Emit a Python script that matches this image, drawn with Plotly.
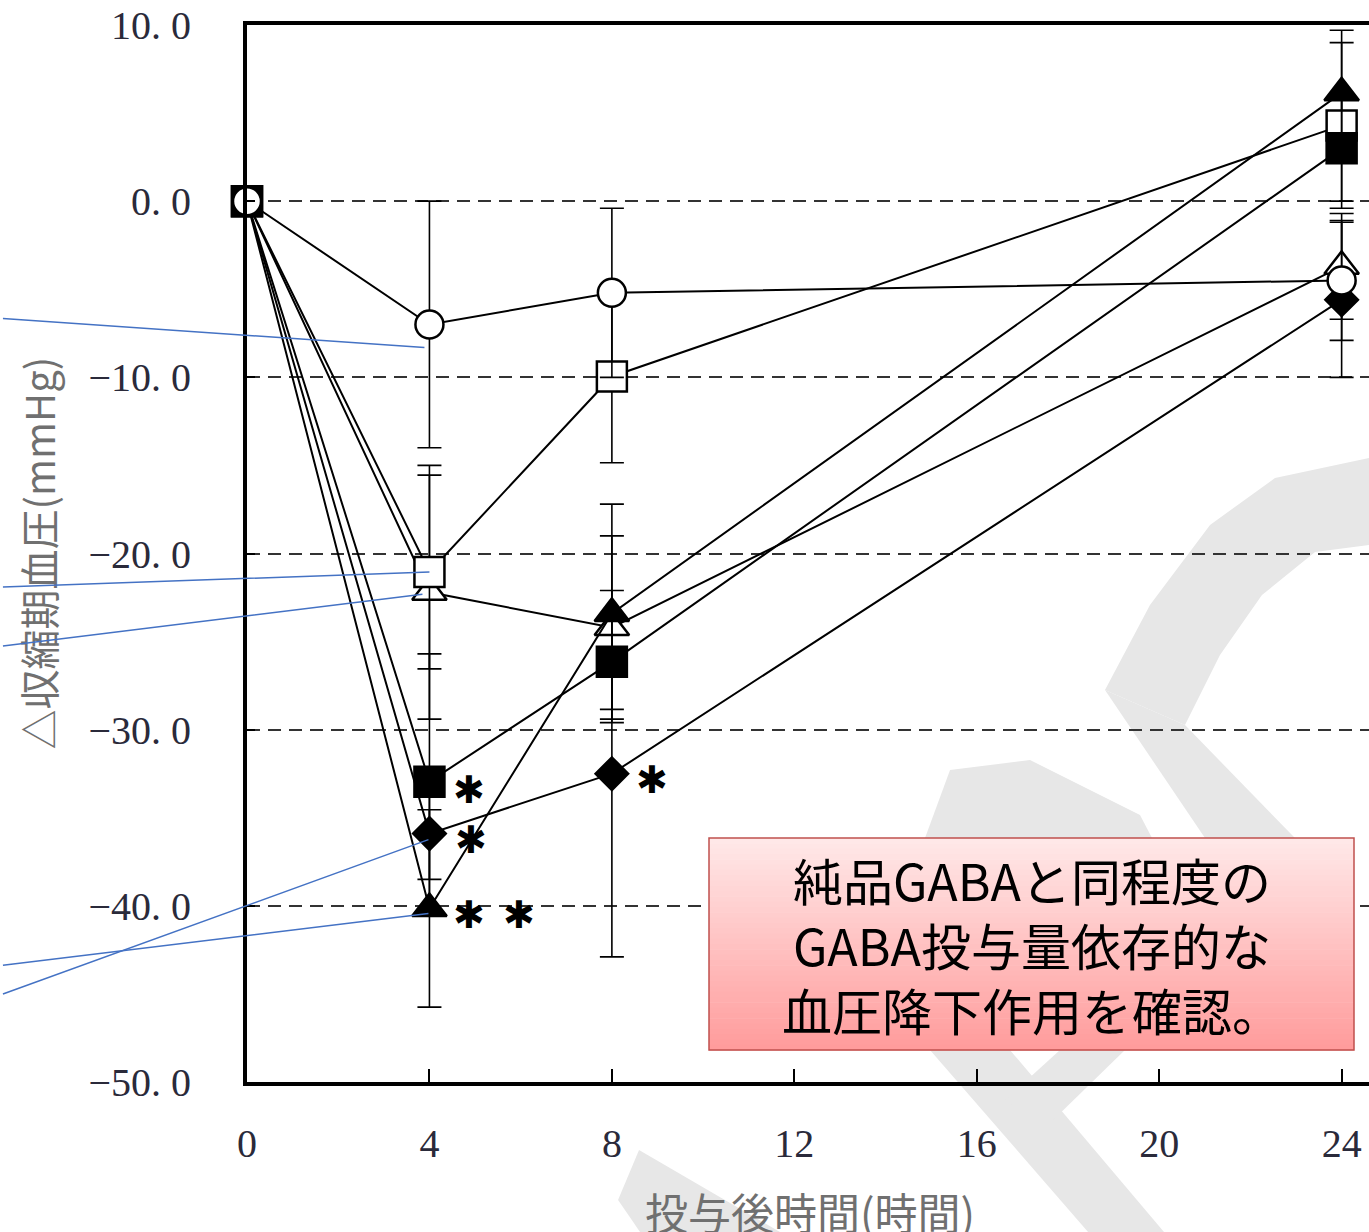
import plotly.graph_objects as go

# Time after administration (hours)
hours = [0, 4, 8, 24]

# Change in systolic blood pressure (mmHg), mean and error per group
open_circle = [0, -7.0, -5.2, -4.5]
open_circle_err = [0, 7.0, 4.8, 3.4]
open_square = [0, -21.05, -9.95, 4.3]
open_square_err = [0, 5.5, 4.9, 4.7]
open_triangle = [0, -22.2, -24.2, -3.7]
open_triangle_err = [0, 7.2, 5.2, 3.0]
filled_square = [0, -32.95, -26.15, 3.0]
filled_square_err = [0, 7.25, 2.7, 3.0]
filled_diamond = [0, -35.9, -32.5, -5.6]
filled_diamond_err = [0, 2.6, 10.4, 4.4]
filled_triangle = [0, -40.15, -23.4, 6.15]
filled_triangle_err = [0, 5.6, 6.2, 3.55]

y_ticks = [-50, -40, -30, -20, -10, 0, 10]
y_tick_labels = ["−50. 0", "−40. 0", "−30. 0", "−20. 0", "−10. 0", "0. 0", "10. 0"]
x_ticks = [0, 4, 8, 12, 16, 20, 24]
x_tick_labels = ["0", "4", "8", "12", "16", "20", "24"]

# plot-area geometry in pixels (used for paper-space decorations)
W, H = 1369, 1232
ML, MR, MT, MB = 247, 0, 25, 150
PW, PH = W - ML - MR, H - MT - MB


def px(x, y):
    """pixel position -> paper coordinates"""
    return (x - ML) / PW, (H - MB - y) / PH


def poly_path(points):
    pts = [px(x, y) for x, y in points]
    return "M" + " L".join(f"{a:.4f},{b:.4f}" for a, b in pts) + " Z"


# marker sizes per point: the first point (t=0) is shared by every group,
# so the wider symbols are shrunk there to sit behind the square/circle
groups = [
    ("open_triangle", open_triangle, open_triangle_err, "triangle-up", "white", [24, 30, 30, 30]),
    ("open_square", open_square, open_square_err, "square", "white", [30, 30, 30, 30]),
    ("filled_square", filled_square, filled_square_err, "square", "black", [30, 30, 30, 30]),
    ("filled_diamond", filled_diamond, filled_diamond_err, "diamond", "black", [20, 25, 25, 25]),
    ("filled_triangle", filled_triangle, filled_triangle_err, "triangle-up", "black", [24, 30, 30, 30]),
    ("open_circle", open_circle, open_circle_err, "circle", "white", [28, 28, 28, 28]),
]

fig = go.Figure()
for name, vals, err, symbol, fill, size in groups:
    fig.add_trace(go.Scatter(
        x=hours, y=vals, name=name, mode="lines+markers",
        line=dict(color="black", width=2),
        marker=dict(symbol=symbol, size=size, color=fill, opacity=1,
                    line=dict(color="black", width=2.5)),
        error_y=dict(type="data", array=err, color="black",
                     thickness=1.6, width=12),
        cliponaxis=False, showlegend=False,
    ))

serif = "Liberation Serif"
jp = "Noto Sans CJK JP"

fig.update_layout(
    width=W, height=H,
    margin=dict(l=ML, r=MR, t=MT, b=MB),
    paper_bgcolor="white", plot_bgcolor="white",
    xaxis=dict(
        range=[0, 24.6], tickvals=x_ticks, ticktext=x_tick_labels,
        ticks="inside", ticklen=13, tickwidth=2, tickcolor="black",
        showline=True, linewidth=4, linecolor="black", mirror=True,
        showgrid=False, zeroline=False,
        tickfont=dict(family=serif, size=40, color="#2a2a3a"),
        ticklabelstandoff=23,
    ),
    yaxis=dict(
        range=[-50, 10], tickvals=y_ticks, ticktext=y_tick_labels,
        ticks="inside", ticklen=8, tickwidth=2, tickcolor="black",
        showline=True, linewidth=4, linecolor="black", mirror=False,
        showgrid=True, gridcolor="#333333", gridwidth=2, griddash="13px,8px",
        zeroline=False,
        tickfont=dict(family=serif, size=40, color="#2a2a3a"),
        ticklabelstandoff=44,
    ),
)

shapes = []

# faint watermark strokes behind the data
wm_color = "#e7e7e7"
watermark = [
    [(1105, 690), (1150, 605), (1210, 525), (1275, 478), (1369, 458),
     (1369, 545), (1315, 552), (1262, 595), (1220, 655), (1185, 725)],
    [(1105, 690), (1185, 725), (1295, 838), (1205, 838)],
    [(950, 770), (1030, 760), (1140, 815), (1152, 838), (925, 838)],
    [(930, 1050), (1010, 1050), (1164, 1232), (1088, 1232)],
    [(1005, 1100), (1060, 1050), (1125, 1050), (1045, 1128)],
    [(639, 1150), (780, 1232), (640, 1232), (618, 1200)],
]
for pts in watermark:
    shapes.append(dict(
        type="path", xref="paper", yref="paper", path=poly_path(pts),
        fillcolor=wm_color, line=dict(width=0), layer="below",
    ))

annotations = []

# axis titles
annotations.append(dict(
    text="△収縮期血圧(mmHg)", textangle=-90, xref="paper", yref="paper",
    x=px(37, 0)[0], y=0.5, xanchor="center", yanchor="middle", showarrow=False,
    font=dict(family=jp, size=40, color="#707070"),
))
annotations.append(dict(
    text="投与後時間(時間)", xref="paper", yref="paper",
    x=px(810, 0)[0], y=px(0, 1211)[1], xanchor="center", yanchor="middle",
    showarrow=False, font=dict(family=jp, size=43, color="#707070"),
))

# significance marks
star_font = dict(family="DejaVu Sans", size=38, color="black")
for xv, yv, dx, dy in [
    (hours[1], filled_square[1], 40, -8),
    (hours[1], filled_diamond[1], 42, -6),
    (hours[1], filled_triangle[1], 40, -7),
    (hours[1], filled_triangle[1], 90, -7),
    (hours[2], filled_diamond[2], 40, -6),
]:
    annotations.append(dict(
        text="✱", x=xv, y=yv, xref="x", yref="y", showarrow=False,
        xshift=dx, yshift=dy, font=star_font,
    ))

# leader lines from the (off-canvas) group labels to the 4 h points
leaders = [
    (open_circle[1], -5, -23, -423, -29),
    (open_square[1], 0, 0, -428, 15),
    (open_triangle[1], -7, -2, -421, 52),
    (filled_diamond[1], -1, -6, -427, 155),
    (filled_triangle[1], -1, -5, -427, 52),
]
for yv, dx, dy, ax, ay in leaders:
    annotations.append(dict(
        text="", x=hours[1], y=yv, xref="x", yref="y",
        xshift=dx, yshift=dy, showarrow=True, arrowhead=0,
        arrowwidth=1.5, arrowcolor="#4472c4", ax=ax, ay=ay,
        standoff=0, startstandoff=0,
    ))

# callout box with a vertical pink gradient
bx0, by1 = px(709, 838)
bx1, by0 = px(1354, 1050)
top_rgb = (255, 232, 232)
bot_rgb = (255, 156, 156)
n = 40
for i in range(n):
    t = i / (n - 1)
    r = round(top_rgb[0] + (bot_rgb[0] - top_rgb[0]) * t)
    g = round(top_rgb[1] + (bot_rgb[1] - top_rgb[1]) * t)
    b = round(top_rgb[2] + (bot_rgb[2] - top_rgb[2]) * t)
    ya = by1 - (by1 - by0) * i / n
    yb = by1 - (by1 - by0) * (i + 1) / n
    shapes.append(dict(
        type="rect", xref="paper", yref="paper", x0=bx0, x1=bx1,
        y0=yb - 0.0005, y1=ya, fillcolor=f"rgb({r},{g},{b})",
        line=dict(width=0), layer="above",
    ))
shapes.append(dict(
    type="rect", xref="paper", yref="paper", x0=bx0, x1=bx1, y0=by0, y1=by1,
    fillcolor="rgba(0,0,0,0)", line=dict(color="#c0504d", width=1.5),
    layer="above",
))
annotations.append(dict(
    text="純品GABAと同程度の<br>GABA投与量依存的な<br>血圧降下作用を確認。",
    xref="paper", yref="paper", x=(bx0 + bx1) / 2, y=(by0 + by1) / 2,
    xanchor="center", yanchor="middle", showarrow=False,
    font=dict(family=jp, size=50, color="black"),
))

fig.update_layout(shapes=shapes, annotations=annotations)
fig.write_html("out.html")
